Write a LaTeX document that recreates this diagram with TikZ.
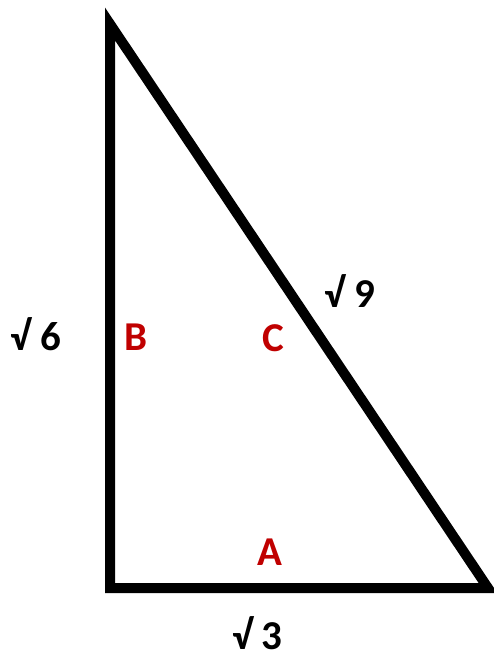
\documentclass[tikz,border=0pt]{standalone}
\usepackage{fontspec}
\setmainfont{Carlito}
\definecolor{lblred}{HTML}{C00000}
\begin{document}
\begin{tikzpicture}[x=1pt,y=-1pt,
  lbl/.style={font=\fontsize{41}{49}\selectfont\bfseries, inner sep=0pt, anchor=base},
  redlbl/.style={lbl, text=lblred}]
\useasboundingbox (0,0) rectangle (494,654);
\coordinate (T) at (110,24);
\coordinate (L) at (110,588);
\coordinate (R) at (488,588);
\draw[line width=10pt, line join=miter, miter limit=20] (T) -- (L) -- (R) -- cycle;
\node[lbl] (s6) at (36,350) {√ 6};
\node[redlbl] (B) at (136,350) {B};
\node[redlbl] (C) at (273,351) {C};
\node[lbl] (s9) at (350,307) {√ 9};
\node[redlbl] (A) at (269.5,565) {A};
\node[lbl] (s3) at (257.5,649) {√ 3};
\end{tikzpicture}
\end{document}
